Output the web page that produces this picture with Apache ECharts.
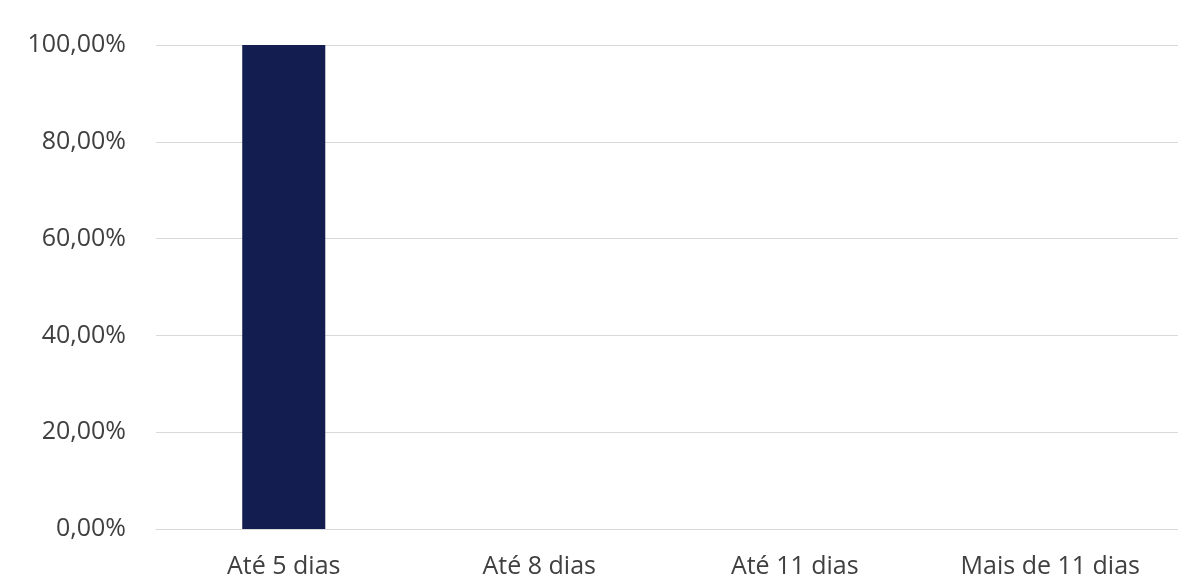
<!DOCTYPE html>
<html><head><meta charset="utf-8">
<script src="https://cdn.jsdelivr.net/npm/echarts@6/dist/echarts.min.js"></script>
<style>html,body{margin:0;padding:0;background:#fff}#c{width:1178px;height:579px}</style>
</head><body><div id="c"></div>
<script>
const categories = ['Até 5 dias', 'Até 8 dias', 'Até 11 dias', 'Mais de 11 dias'];
const values = [100, 0, 0, 0];
const yTicks = [0, 20, 40, 60, 80, 100];

const chart = echarts.init(document.getElementById('c'));
chart.setOption({
  animation: false,
  grid: {left: 156, right: 0, top: 45, bottom: 50, containLabel: false},
  xAxis: {
    type: 'category', data: categories,
    axisLine: {show: true, lineStyle: {color: '#d9d9d9', width: 1}},
    axisTick: {show: false},
    axisLabel: {color: '#404040', fontSize: 25, fontFamily: 'Open Sans', margin: 25}
  },
  yAxis: {
    type: 'value', min: 0, max: 100, interval: 20,
    axisLine: {show: false}, axisTick: {show: false},
    splitLine: {lineStyle: {color: '#d9d9d9', width: 1}},
    axisLabel: {color: '#404040', fontSize: 25, fontFamily: 'Open Sans', margin: 30,
      formatter: v => yTicks.includes(v) ? v.toFixed(2).replace('.', ',') + '%' : ''}
  },
  series: [{type: 'bar', data: values, barWidth: '32.5%', itemStyle: {color: '#131D4F'}}]
});
</script></body></html>
